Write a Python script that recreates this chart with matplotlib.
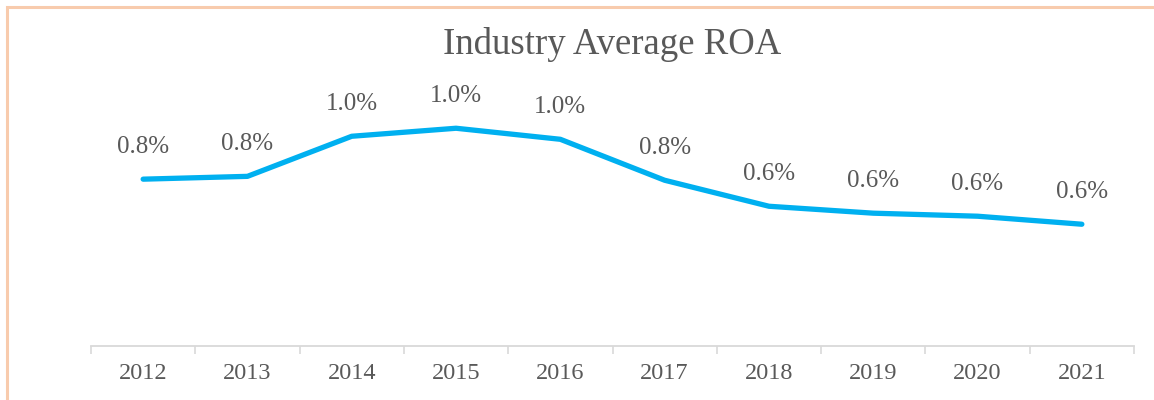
import matplotlib
matplotlib.use("Agg")
import matplotlib.pyplot as plt
from matplotlib.patches import Rectangle

years = ["2012", "2013", "2014", "2015", "2016", "2017", "2018", "2019", "2020", "2021"]
roa = [0.770, 0.783, 0.968, 1.005, 0.954, 0.765, 0.645, 0.613, 0.599, 0.562]
title = "Industry Average ROA"

plt.rcParams['font.family'] = ['Liberation Serif', 'DejaVu Serif']
txt = '#595959'

W, H = 1154, 400
fig = plt.figure(figsize=(W / 100, H / 100), dpi=100)
fig.patch.set_facecolor('white')

# outer border (cut at right/bottom like reference)
fig.patches.append(Rectangle((7 / W, -0.1), 1.5, (H - 7) / H + 0.1,
                             transform=fig.transFigure, fill=False,
                             edgecolor='#F8CBAD', linewidth=2.2, zorder=0))

ax = fig.add_axes([91 / W, 54 / H, 1043 / W, 260 / H])
x = list(range(len(years)))
ax.plot(x, roa, color='#00B0F0', linewidth=3.8, solid_capstyle='round',
        solid_joinstyle='round')
for xi, v in zip(x, roa):
    ax.annotate(f"{v:.1f}%", (xi, v), xytext=(0, 23.5), textcoords='offset points',
                ha='center', va='center', fontsize=18, color=txt)

ax.set_xlim(-0.5, len(years) - 0.5)
ax.set_ylim(0, 1.2)
ax.set_xticks(x)
ax.set_xticklabels(years, fontsize=17.5, color=txt)
ax.set_xticks([i - 0.5 for i in range(len(years) + 1)], minor=True)
ax.tick_params(axis='x', which='major', length=0, pad=12.5)
ax.tick_params(axis='x', which='minor', length=6, width=1.2, color='#D9D9D9')
ax.set_yticks([])
for s in ['top', 'right', 'left']:
    ax.spines[s].set_visible(False)
ax.spines['bottom'].set_color('#D9D9D9')
ax.spines['bottom'].set_linewidth(1.3)

fig.text(612 / W, 1 - 45 / H, title, ha='center', va='center', fontsize=26.5, color=txt)

fig.savefig('out.png', dpi=100)
